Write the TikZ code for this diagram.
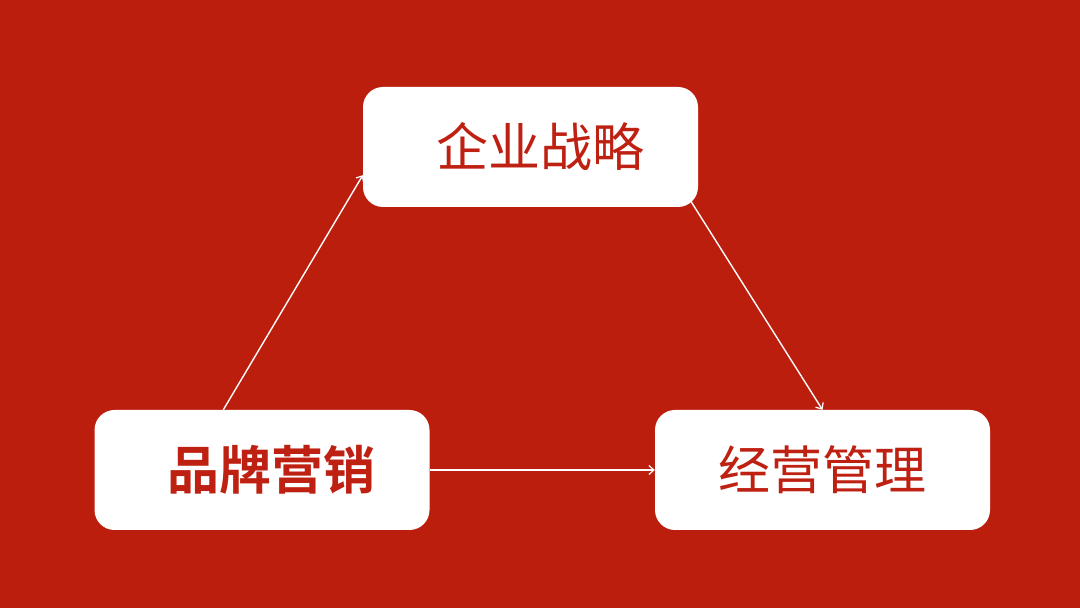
\documentclass[tikz,border=0pt]{standalone}
\usepackage{fontspec}
\newfontfamily\cjk{Noto Sans CJK SC}
\newfontfamily\cjkb{Noto Sans CJK SC Bold}
\usetikzlibrary{arrows.meta,calc}
\definecolor{bgred}{RGB}{188,30,14}
\definecolor{txtred}{RGB}{190,32,18}
\tikzset{
  box/.style={draw=none,fill=white,rounded corners=20pt,minimum width=335pt,minimum height=120pt,inner sep=0pt,text=txtred,font=\fontsize{52pt}{60pt}\selectfont\cjk},
  conn/.style={draw=white,line width=1.4pt,-{Straight Barb[length=5pt,width=9pt,line width=1.2pt]}}
}
\begin{document}
\begin{tikzpicture}[x=1pt,y=1pt]
\fill[bgred] (0,0) rectangle (1080,608);
\useasboundingbox (0,0) rectangle (1080,608);
\node[box] (T) at (530.5,461) {\hspace*{19pt}企业战略};
\node[box,font=\fontsize{52pt}{60pt}\selectfont\cjkb] (L) at (262,138) {\hspace*{19pt}品牌营销};
\node[box] (R) at (822.5,138) {经营管理};
\coordinate (a1) at ($(L.north west)+(129,0)$);
\coordinate (a2) at ($(T.south west)+(0,32)$);
\coordinate (b1) at ($(T.south east)+(-8,7)$);
\draw[conn] (a1) -- (a2);
\draw[conn] (b1) -- (R.north);
\draw[conn] (L.east) -- (R.west);
\end{tikzpicture}
\end{document}
